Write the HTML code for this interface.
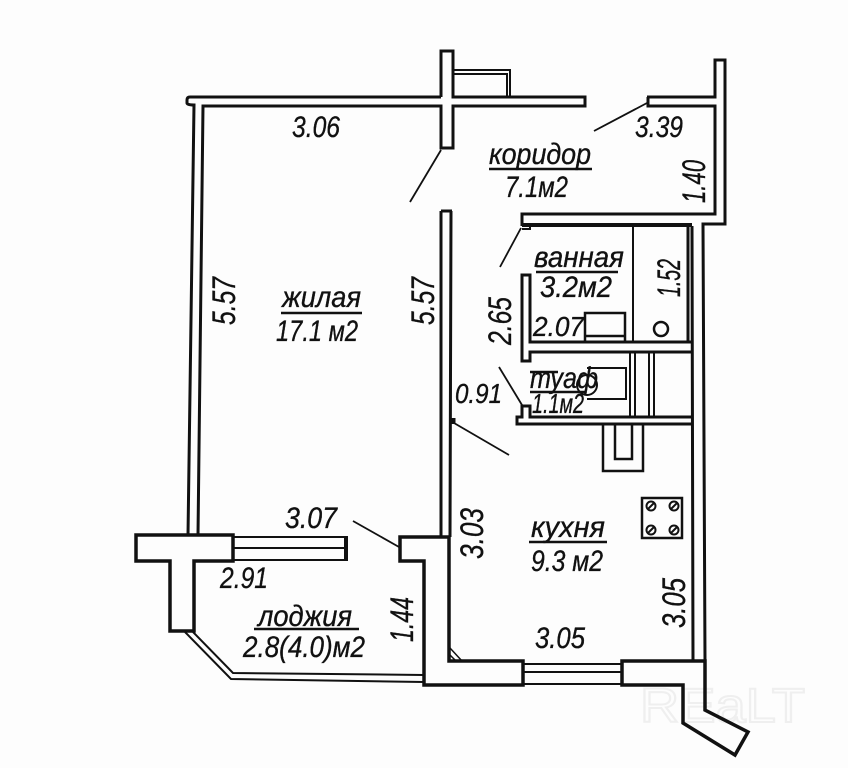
<!DOCTYPE html>
<html><head><meta charset="utf-8"><style>
html,body{margin:0;padding:0;background:#fdfdfd}
svg{display:block}
text{font-family:"Liberation Sans",sans-serif;font-style:italic;font-size:30px;fill:#111;stroke:#111;stroke-width:.35}
text.r{font-size:32px}
text.s{font-size:28px}
</style></head><body>
<svg width="848" height="768" viewBox="0 0 848 768" xmlns="http://www.w3.org/2000/svg">
<rect width="848" height="768" fill="#fdfdfd"/>
<text x="640" y="722" textLength="165" lengthAdjust="spacingAndGlyphs" style="font-style:normal;font-size:48px;fill:none;stroke:#efefef;stroke-width:2">REaLT</text>
<g fill="none" stroke="#111" stroke-width="3">
<!-- top wall / living room -->
<path d="M441,97 H190 Q187,97 187,100 V103 Q187,105 194,105 L188,535"/>
<path d="M198,535 L203,106 H441 V148 H453 V106 H585 V97 H453 V51 H441 V97"/>
<!-- small balcony -->
<path d="M453,70 H510 V96 M453,74 H507 V96" stroke-width="2"/>
<!-- corridor right -->
<path d="M647,97 H715 V60 H725 V224 H703 L705,661" />
<path d="M715,97 V97 M648,97 V106 H715 V214 H522 V226"/>
<path d="M522,225 H692" stroke-width="4"/>
<path d="M530,225 V229 H522" stroke-width="2"/>
<path d="M688,226 V342 M692,226 L693,661" stroke-width="3"/>
<!-- bath -->
<path d="M633,226 V342" stroke-width="2"/>
<path d="M692,342 H530 V275 H522 V361 H530 V352 H692"/>
<path d="M585,342 V313 H625 V342 M585,336 H625" stroke-width="2.5"/>
<circle cx="661" cy="329" r="7" stroke-width="2.5"/>
<!-- wc -->
<path d="M692,417 H530 V406 H522 V417 H517 V424 H692"/>
<path d="M630,352 V417 M635,352 V417 M649,352 V417 M654,352 V417" stroke-width="2"/>
<path d="M587,368 H626 V399 H587" stroke-width="2"/>
<circle cx="587" cy="385" r="10" stroke-width="2"/>
<path d="M603,424 V471 H643 V424 M615,424 V459 H632 V424" stroke-width="2.5"/>
<!-- kitchen / inner walls -->
<path d="M441,211 V537 M441,211 H452 M451,211 L450,537" stroke-width="3"/>
<path d="M453,418 V424" stroke-width="5"/>
<path d="M400,537 H449 V661 H523 V685 H424 V561 H400 Z" stroke-width="3.5"/>
<path d="M622,661 H705 V710 L748,732 L735,755 L683,723 V685 H622 Z" stroke-width="3.5"/>
<path d="M523,664 H622 M523,672 H622 M523,684 H622" stroke-width="2"/>
<path d="M450,648 L462,661 M450,655 L456,661" stroke-width="1.5"/>
<!-- loggia -->
<path d="M136,535 H233 V561 H194 V631 H170 V561 H136 Z" stroke-width="3.5"/>
<path d="M233,537 H345 M233,548 H345 M233,560 H345" stroke-width="2"/>
<path d="M346,536 V561" stroke-width="4"/>
<path d="M185,632 L231,679 L424,682 M193,632 L233,673 L424,675" stroke-width="2"/>
<!-- stove -->
<rect x="642" y="498" width="40" height="40" stroke-width="2.5"/>
<g stroke-width="2"><circle cx="651" cy="506" r="4.5"/><circle cx="674" cy="506" r="4.5"/><circle cx="651" cy="530" r="4.5"/><circle cx="674" cy="530" r="4.5"/>
<path d="M648,509 L654,503 M671,509 L677,503 M648,533 L654,527 M671,533 L677,527"/></g>
<!-- door swings -->
<g stroke-width="1.8">
<path d="M441,150 L410,202"/><path d="M647,103 L594,131"/><path d="M521,228 L500,267"/><path d="M522,405 L499,367"/><path d="M454,423 L509,455"/><path d="M399,547 L353,521"/>
</g>
<!-- label underlines -->
<g stroke-width="2.5">
<path d="M489,169 H592"/><path d="M536,272 H618"/><path d="M281,313 H362"/><path d="M530,392 H585"/><path d="M254,629 H359"/><path d="M529,542 H607"/>
<path d="M530,372 H558"/>
</g>
</g>
<g>
<text x="292" y="137" textLength="48" lengthAdjust="spacingAndGlyphs">3.06</text>
<text x="635" y="137" textLength="48" lengthAdjust="spacingAndGlyphs">3.39</text>
<text x="489" y="164" textLength="102" lengthAdjust="spacingAndGlyphs">коридор</text>
<text x="505" y="197" textLength="63" lengthAdjust="spacingAndGlyphs">7.1м2</text>
<text class="r" transform="translate(705,203) rotate(-90)" textLength="43" lengthAdjust="spacingAndGlyphs">1.40</text>
<text x="534" y="267" textLength="90" lengthAdjust="spacingAndGlyphs">ванная</text>
<text x="540" y="297" textLength="72" lengthAdjust="spacingAndGlyphs">3.2м2</text>
<text class="r" transform="translate(680,297) rotate(-90)" textLength="38" lengthAdjust="spacingAndGlyphs">1.52</text>
<text class="r" transform="translate(511,345) rotate(-90)" textLength="48" lengthAdjust="spacingAndGlyphs">2.65</text>
<text class="s" x="533" y="336" textLength="51" lengthAdjust="spacingAndGlyphs">2.07</text>
<text x="530" y="388" textLength="68" lengthAdjust="spacingAndGlyphs">туаф</text>
<text class="s" x="532" y="413" textLength="52" lengthAdjust="spacingAndGlyphs">1.1м2</text>
<text class="s" x="455" y="403" textLength="47" lengthAdjust="spacingAndGlyphs">0.91</text>
<text class="r" transform="translate(235,325) rotate(-90)" textLength="48" lengthAdjust="spacingAndGlyphs">5.57</text>
<text class="r" transform="translate(434,325) rotate(-90)" textLength="48" lengthAdjust="spacingAndGlyphs">5.57</text>
<text x="282" y="307" textLength="79" lengthAdjust="spacingAndGlyphs">жилая</text>
<text x="276" y="341" textLength="82" lengthAdjust="spacingAndGlyphs">17.1 м2</text>
<text x="285" y="528" textLength="52" lengthAdjust="spacingAndGlyphs">3.07</text>
<text x="220" y="588" textLength="48" lengthAdjust="spacingAndGlyphs">2.91</text>
<text x="258" y="626" textLength="94" lengthAdjust="spacingAndGlyphs">лоджия</text>
<text x="243" y="657" textLength="122" lengthAdjust="spacingAndGlyphs">2.8(4.0)м2</text>
<text class="r" transform="translate(413,642) rotate(-90)" textLength="45" lengthAdjust="spacingAndGlyphs">1.44</text>
<text class="r" transform="translate(483,559) rotate(-90)" textLength="51" lengthAdjust="spacingAndGlyphs">3.03</text>
<text x="531" y="537" textLength="74" lengthAdjust="spacingAndGlyphs">кухня</text>
<text x="531" y="571" textLength="72" lengthAdjust="spacingAndGlyphs">9.3 м2</text>
<text class="r" transform="translate(685,628) rotate(-90)" textLength="50" lengthAdjust="spacingAndGlyphs">3.05</text>
<text x="535" y="648" textLength="50" lengthAdjust="spacingAndGlyphs">3.05</text>
</g>
</svg>
</body></html>
